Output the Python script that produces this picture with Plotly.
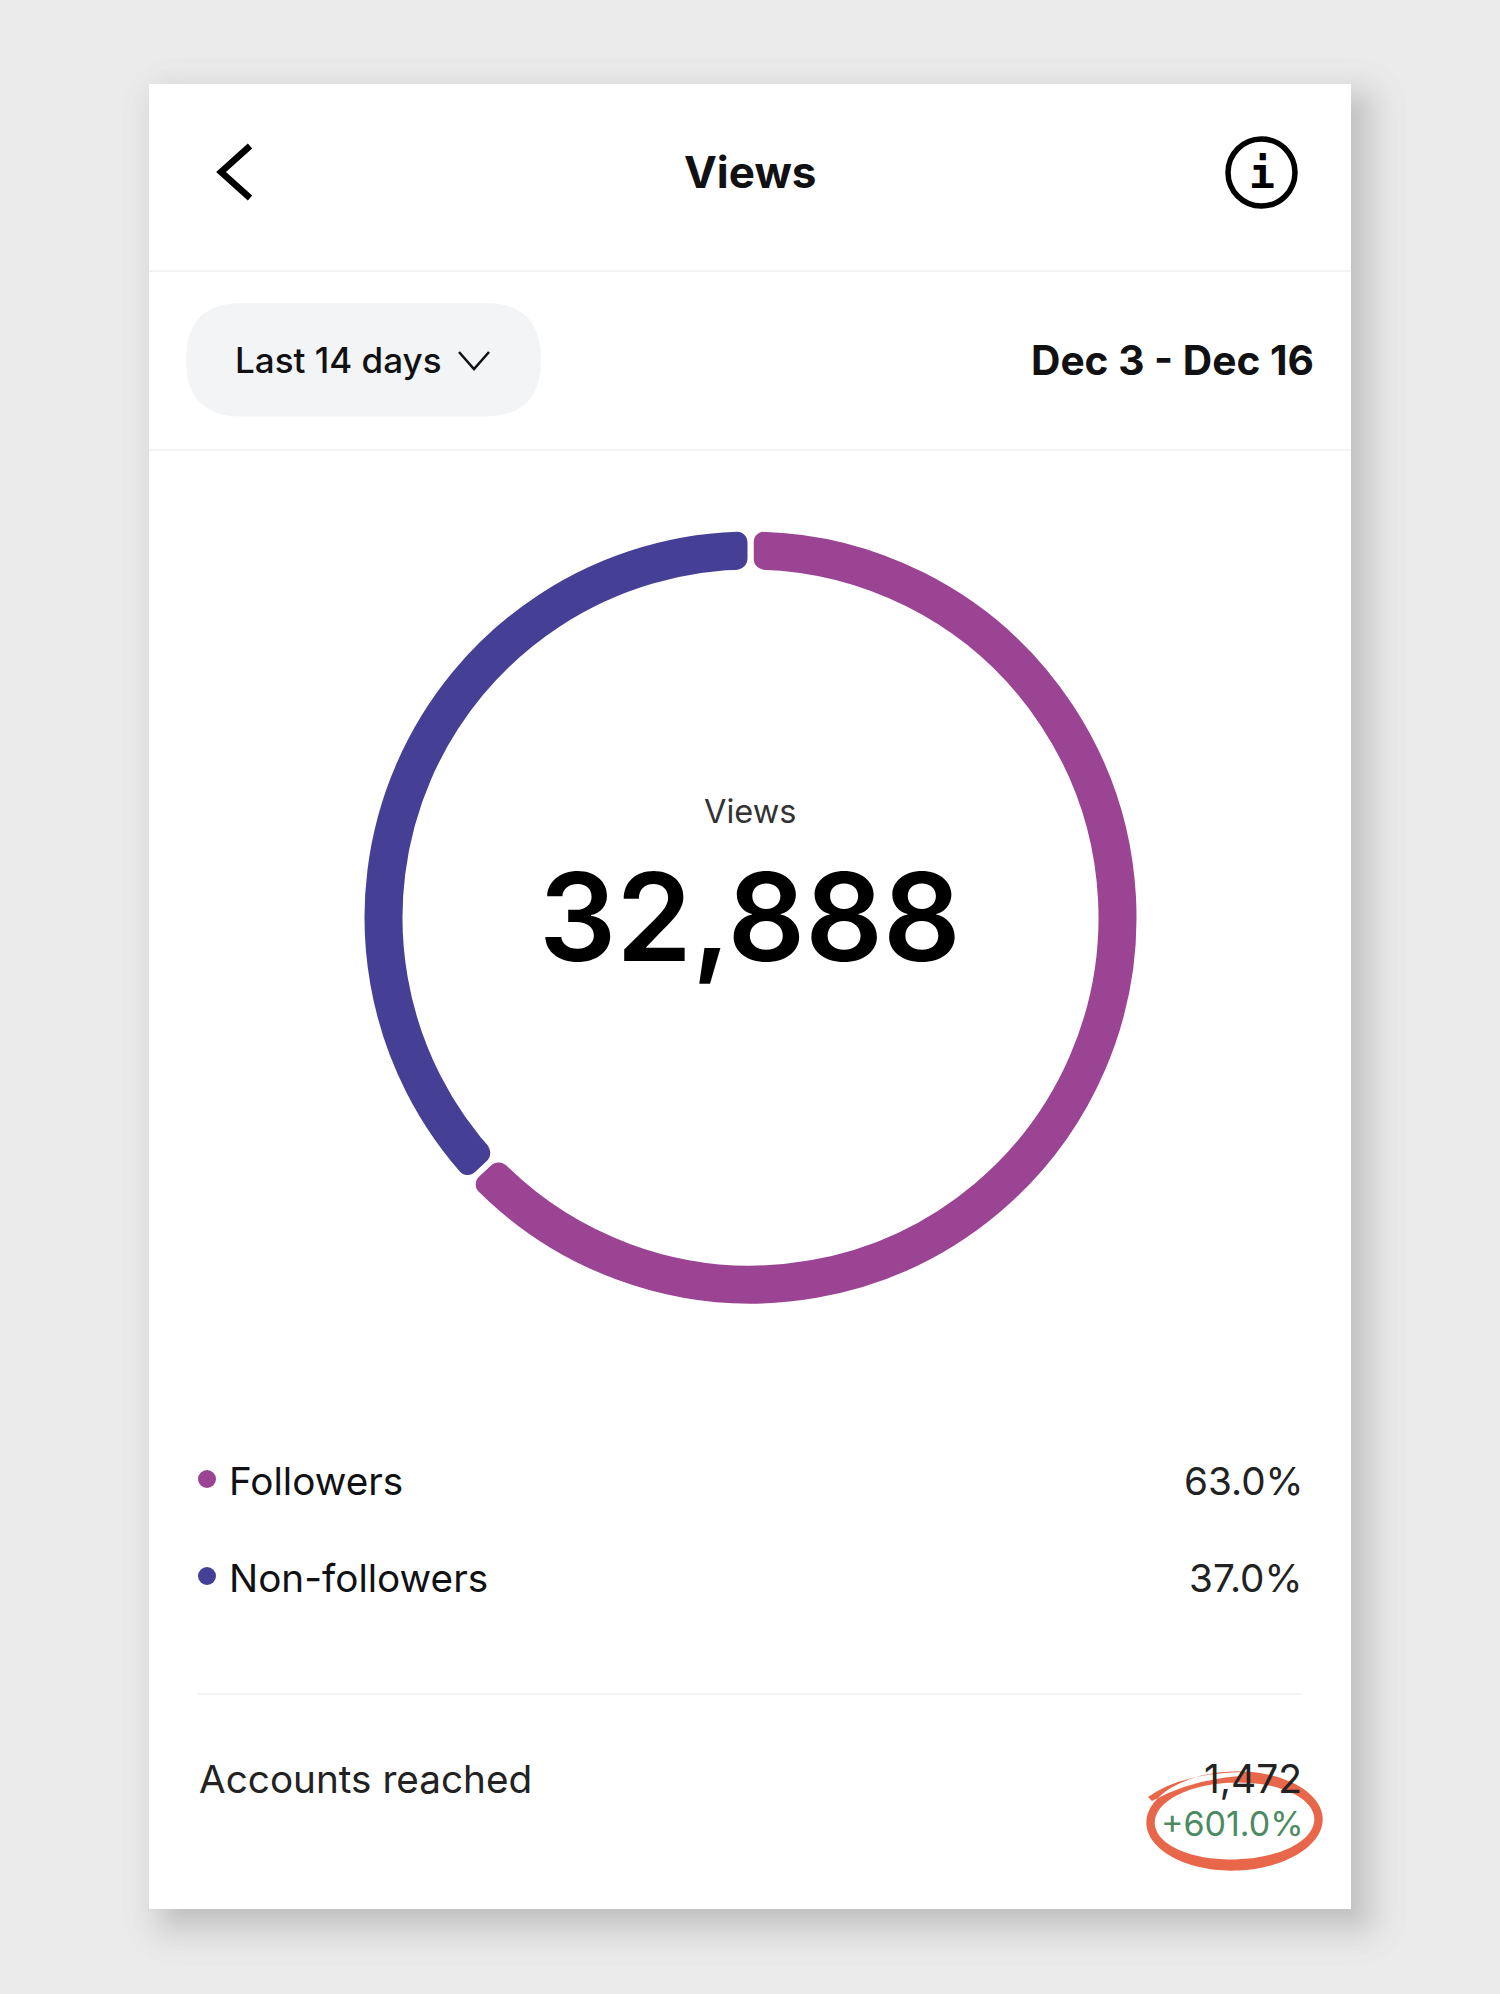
import numpy as np
import plotly.graph_objects as go

# data
segments = ["Followers", "Non-followers"]
shares = [63.0, 37.0]
segment_colors = ["#9a4493", "#453f95"]
total_views = "32,888"
reached_label = "Accounts reached"
reached_value = "1,472"
reached_change = "+601.0%"
date_range = "Dec 3 - Dec 16"
period = "Last 14 days"

W, H = 1500, 1994
CX, CY = 750.5, 917.5
R_OUT, R_IN = 386, 348
GAP = 6
FONT = "Inter"
INK = "#111114"


def rounded_rect(x0, y0, x1, y1, r):
    return (f"M{x0+r},{y0} L{x1-r},{y0} Q{x1},{y0} {x1},{y0+r} L{x1},{y1-r} Q{x1},{y1} {x1-r},{y1} "
            f"L{x0+r},{y1} Q{x0},{y1} {x0},{y1-r} L{x0},{y0+r} Q{x0},{y0} {x0+r},{y0} Z")


def poly(pts):
    return "M" + " L".join(f"{x:.2f},{y:.2f}" for x, y in pts) + " Z"


def corner_notch(angle, side, radius, inward, rc=11):
    # white corner cut so the end of a ring segment looks rounded
    a = np.radians(angle)
    rad = np.array([np.sin(a), -np.cos(a)])
    tan = np.array([np.cos(a), np.sin(a)])
    c0 = np.array([CX, CY])
    p = c0 + radius * rad + side * GAP / 2 * tan
    d = -1 if inward else 1
    centre = p + side * rc * tan + d * rc * rad
    pts = [p - d * 2 * rad - side * 2 * tan]
    for t in np.linspace(0, np.pi / 2, 12):
        pts.append(centre - side * rc * np.cos(t) * tan - d * rc * np.sin(t) * rad)
    return poly(pts)


def hand_ellipse():
    # red marker ring, thickness changes round the stroke
    t = np.linspace(0, 2 * np.pi, 140)
    tilt = np.radians(-1.5)
    cx, cy = 1234.5, 1821
    thick = 9.8 - 1.4 * np.cos(2 * t)
    out, inn = [], []
    for ti, th in zip(t, thick):
        for store, sign in ((out, 1), (inn, -1)):
            x = (84 + sign * th / 2) * np.cos(ti)
            y = (44 + sign * th / 2) * np.sin(ti)
            store.append((cx + x * np.cos(tilt) - y * np.sin(tilt), cy + x * np.sin(tilt) + y * np.cos(tilt)))
    ring = poly(out) + " " + poly(inn[::-1])
    tail = "M1148,1797 Q1180,1774 1240,1772 L1240,1776 Q1190,1780 1152,1801 Z"
    return ring + " " + tail


shapes = []
# card shadow, layers spread like a soft blur
for u in np.linspace(-0.96, 0.96, 26):
    g = float(26 * np.sign(u) * np.sqrt(-np.log(1 - u ** 2)))
    shapes.append(dict(type="path", layer="below", line_width=0, fillcolor="rgba(0,0,0,0.0075)",
                       path=rounded_rect(149 + 15 - g, 84 + 15 - g, 1351 + 15 + g, 1909 + 15 + g, max(g + 20, 1))))
# card
shapes.append(dict(type="rect", layer="below", x0=149, y0=84, x1=1351, y1=1909, fillcolor="white", line_width=0))
# dividers
for y, x0, x1 in [(271, 149, 1351), (450, 149, 1351), (1694, 198, 1302)]:
    shapes.append(dict(type="line", layer="below", x0=x0, x1=x1, y0=y, y1=y, line=dict(color="#f3f3f3", width=2)))
# period pill
shapes.append(dict(type="path", layer="below", path=rounded_rect(186, 303, 541, 416.5, 56),
                   fillcolor="#f3f4f6", line_width=0))
# icons
shapes.append(dict(type="path", path="M250,146 L221,172 L250,198", line=dict(color="#000", width=6.5)))
shapes.append(dict(type="path", path="M459,352 L474,369 L489,352", line=dict(color=INK, width=2.5)))
shapes.append(dict(type="circle", x0=1228, y0=139, x1=1295, y1=206, line=dict(color="#000", width=5.5)))

# rounded ends of the ring segments, placed from the shares
boundaries = [0.0, shares[0] / sum(shares) * 360]
for angle in boundaries:
    for side in (1, -1):
        shapes.append(dict(type="path", path=corner_notch(angle, side, R_OUT, True), fillcolor="white", line_width=0))
        shapes.append(dict(type="path", path=corner_notch(angle, side, R_IN, False), fillcolor="white", line_width=0))

# marker ring
shapes.append(dict(type="path", path=hand_ellipse(), fillcolor="#e8674a", line_width=0, fillrule="evenodd"))

fig = go.Figure()

r_pie = R_OUT + GAP / 2
fig.add_trace(go.Pie(
    labels=segments, values=shares, sort=False, direction="clockwise", rotation=0,
    hole=(R_IN - GAP / 2) / r_pie, textinfo="none", showlegend=False,
    marker=dict(colors=segment_colors, line=dict(color="white", width=GAP)),
    domain=dict(x=[(CX - r_pie) / W, (CX + r_pie) / W],
                y=[(H - CY - r_pie) / H, (H - CY + r_pie) / H]),
))

fig.add_trace(go.Scatter(
    x=[207, 207], y=[1479, 1576], mode="markers", showlegend=False,
    marker=dict(color=segment_colors, size=18), hoverinfo="skip",
))


def label(x, y, text, size, anchor="left", color=INK, weight=400, family=FONT):
    fig.add_annotation(x=x, y=y, text=text, showarrow=False, xanchor=anchor, yanchor="middle",
                       font=dict(family=family, size=size, color=color, weight=weight))


label(750, 172, "Views", 44, "center", "#111114", 700)
label(1261.5, 173, "i", 43, "center", "#000", 700, "DejaVu Sans Mono")
label(233, 360, period, 35, weight=500)
label(1316, 360, date_range, 40.7, "right", weight=700)
label(750, 811, "Views", 32.5, "center", "#333")
label(750, 916, total_views, 121.5, "center", "#000", 600)
label(227, 1481, segments[0], 38.7)
label(227, 1578, segments[1], 38.7)
label(1306, 1481, f"{shares[0]:.1f}%", 38.7, "right", "#222")
label(1305, 1578, f"{shares[1]:.1f}%", 38.7, "right", "#222")
label(197, 1779, reached_label, 38.7, color="#222")
label(1304, 1778, reached_value, 39, "right", "#222")
label(1305.5, 1823, reached_change, 34, "right", "#4c8a62")

fig.update_layout(
    width=W, height=H, margin=dict(l=0, r=0, t=0, b=0),
    paper_bgcolor="#ebebeb", plot_bgcolor="rgba(0,0,0,0)", shapes=shapes,
    xaxis=dict(range=[0, W], visible=False, fixedrange=True),
    yaxis=dict(range=[H, 0], visible=False, fixedrange=True),
)

fig.write_html("out.html", post_script="document.body.style.margin='0';",
               config=dict(displayModeBar=False))
